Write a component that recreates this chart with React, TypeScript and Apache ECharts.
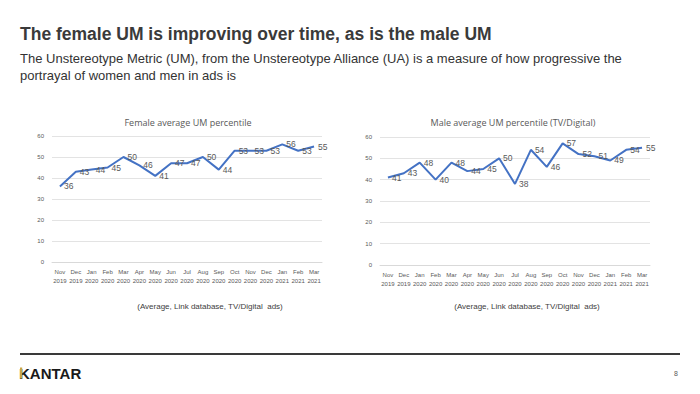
import React, { useEffect, useRef } from "react";
import * as echarts from "echarts";

const categories = [
  "Nov\n2019", "Dec\n2019", "Jan\n2020", "Feb\n2020", "Mar\n2020", "Apr\n2020",
  "May\n2020", "Jun\n2020", "Jul\n2020", "Aug\n2020", "Sep\n2020", "Oct\n2020",
  "Nov\n2020", "Dec\n2020", "Jan\n2021", "Feb\n2021", "Mar\n2021",
];
const femaleValues = [36, 43, 44, 45, 50, 46, 41, 47, 47, 50, 44, 53, 53, 53, 56, 53, 55];
const maleValues = [41, 43, 48, 40, 48, 44, 45, 50, 38, 54, 46, 57, 52, 51, 49, 54, 55];
const yTicks = { min: 0, max: 60, interval: 10 };

const mainTitle = "The female UM is improving over time, as is the male UM";
const subTitle1 = "The Unstereotype Metric (UM), from the Unstereotype Alliance (UA) is a measure of how progressive the";
const subTitle2 = "portrayal of women and men in ads is";
const femaleTitle = "Female average UM percentile";
const maleTitle = "Male average UM percentile (TV/Digital)";
const sourceNote = "(Average, Link database, TV/Digital  ads)";

export default function App() {
  const ref = useRef<HTMLDivElement>(null);
  useEffect(() => {
    if (!ref.current) return;
    const chart = echarts.init(ref.current, null, { renderer: "svg" });
    const axisLabel = { fontSize: 6, color: "#595959", fontFamily: "Liberation Sans" };
    const xAxisBase = {
      type: "category" as const,
      data: categories,
      boundaryGap: true,
      axisLine: { lineStyle: { color: "#d9d9d9", width: 1 } },
      axisTick: { show: false },
      axisLabel: { ...axisLabel, lineHeight: 9, margin: 5, interval: 0 },
    };
    const yAxisBase = {
      type: "value" as const,
      ...yTicks,
      axisLine: { show: false },
      axisTick: { show: false },
      splitLine: { lineStyle: { color: "#e3e3e3", width: 1 } },
      axisLabel: { ...axisLabel, margin: 8 },
    };
    const seriesBase = {
      type: "line" as const,
      showSymbol: true,
      symbol: "circle",
      symbolSize: 0,
      lineStyle: { color: "#4472C4", width: 2 },
      itemStyle: { color: "#4472C4" },
      label: {
        show: true,
        position: "right" as const,
        distance: 4,
        fontSize: 8.5,
        color: "#595959",
        fontFamily: "Liberation Sans",
      },
    };
    chart.setOption({
      animation: false,
      backgroundColor: "#ffffff",
      title: [
        {
          text: femaleTitle, left: 183, top: 113, textAlign: "center",
          textStyle: { fontSize: 9, fontWeight: "normal", color: "#595959", fontFamily: "Open Sans" },
        },
        {
          text: maleTitle, left: 508, top: 113, textAlign: "center",
          textStyle: { fontSize: 9, fontWeight: "normal", color: "#595959", fontFamily: "Open Sans" },
        },
      ],
      grid: [
        { left: 52, width: 270, top: 136, height: 126 },
        { left: 380, width: 270, top: 137, height: 128 },
      ],
      xAxis: [
        { ...xAxisBase, gridIndex: 0 },
        { ...xAxisBase, gridIndex: 1 },
      ],
      yAxis: [
        { ...yAxisBase, gridIndex: 0 },
        { ...yAxisBase, gridIndex: 1 },
      ],
      series: [
        { ...seriesBase, name: "Female", data: femaleValues, xAxisIndex: 0, yAxisIndex: 0 },
        { ...seriesBase, name: "Male", data: maleValues, xAxisIndex: 1, yAxisIndex: 1 },
      ],
      graphic: [
        {
          type: "text", left: 20, top: 25,
          style: { text: mainTitle, fontSize: 17.5, fontWeight: "bold", fill: "#3a3a3a", fontFamily: "Liberation Sans" },
        },
        {
          type: "text", left: 20, top: 52,
          style: { text: subTitle1, fontSize: 13, fill: "#333333", fontFamily: "Liberation Sans" },
        },
        {
          type: "text", left: 20, top: 69,
          style: { text: subTitle2, fontSize: 13, fill: "#333333", fontFamily: "Liberation Sans" },
        },
        {
          type: "text", x: 210, y: 306,
          style: { text: sourceNote, fontSize: 8, fill: "#404040", fontFamily: "Liberation Sans", align: "center", verticalAlign: "middle" },
        },
        {
          type: "text", x: 527, y: 306,
          style: { text: sourceNote, fontSize: 8, fill: "#404040", fontFamily: "Liberation Sans", align: "center", verticalAlign: "middle" },
        },
        {
          type: "rect", shape: { x: 20, y: 353, width: 660, height: 2 },
          style: { fill: "#3a3a3a" },
        },
        {
          type: "text", x: 19, y: 373,
          style: { text: "KANTAR", fontSize: 15, fontWeight: "bold", fill: "#1a1a1a", fontFamily: "Liberation Sans", verticalAlign: "middle" },
        },
        {
          type: "rect", shape: { x: 20, y: 367.5, width: 2.2, height: 11 },
          style: { fill: "#c8a44a" },
        },
        {
          type: "text", x: 678, y: 373,
          style: { text: "8", fontSize: 7, fill: "#595959", fontFamily: "Liberation Sans", align: "right", verticalAlign: "middle" },
        },
      ],
    });
    return () => chart.dispose();
  }, []);
  return (
    <div
      ref={ref}
      style={{ position: "absolute", left: 0, top: 0, width: 700, height: 394 }}
    />
  );
}
